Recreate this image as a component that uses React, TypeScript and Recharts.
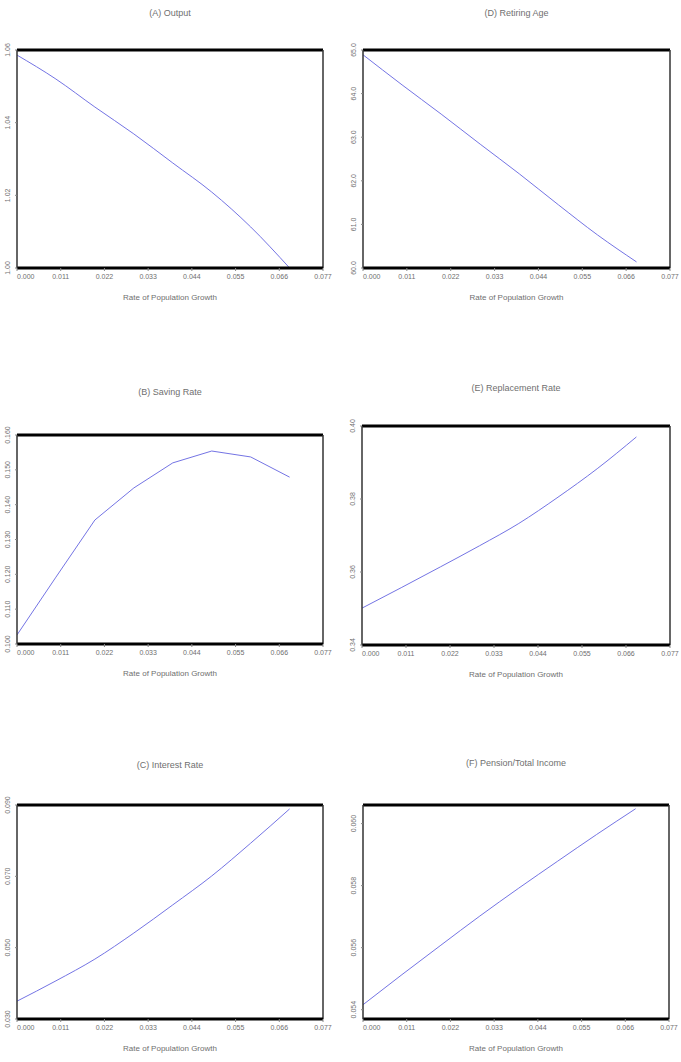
import { LineChart, Line, XAxis, YAxis, ReferenceLine, Label } from 'recharts'

// population growth grid (x) shared by all six panels
const growthRates = [0, 0.0098, 0.0196, 0.0294, 0.0392, 0.049, 0.0588, 0.0686]
const xTicks = [0, 0.011, 0.022, 0.033, 0.044, 0.055, 0.066, 0.077]

// series
const output = [1.0586, 1.052, 1.0443, 1.0369, 1.0289, 1.0209, 1.0113, 1.0]
const retiringAge = [64.89, 64.2, 63.53, 62.84, 62.16, 61.45, 60.76, 60.14]
const savingRate = [0.1026, 0.1192, 0.1356, 0.1448, 0.152, 0.1554, 0.1537, 0.1479]
const replacementRate = [0.3501, 0.3557, 0.3614, 0.3672, 0.3733, 0.3805, 0.3883, 0.397]
const interestRate = [0.035, 0.0407, 0.0468, 0.0541, 0.062, 0.0701, 0.0793, 0.0889]
const pensionShare = [0.05416, 0.05513, 0.05608, 0.05702, 0.05792, 0.05879, 0.05965, 0.06048]

// y tick labels
const outputTicks = [1.0, 1.02, 1.04, 1.06]
const ageTicks = [60, 61, 62, 63, 64, 65]
const savingTicks = [0.1, 0.11, 0.12, 0.13, 0.14, 0.15, 0.16]
const replacementTicks = [0.34, 0.36, 0.38, 0.4]
const interestTicks = [0.03, 0.05, 0.07, 0.09]
const pensionTicks = [0.054, 0.056, 0.058, 0.06]

const FONT = '"Liberation Sans", Arial, sans-serif'
const TEXT = '#6f6f6f'
const LINE = '#7474e4'

type Box = { x0: number; x1: number; y0: number; y1: number }

function Panel(props: {
  title: string
  values: number[]
  yDomain: [number, number]
  yTicks: number[]
  digits: number
  box: Box
  titleY: number
  curve: 'linear' | 'monotone'
}) {
  const { title, values, yDomain, yTicks, digits, box, titleY, curve } = props
  const data = growthRates.map((g, i) => ({ g, v: values[i] }))
  const yw = 17
  const pad = 14
  const right = 12
  const w = box.x1 - box.x0 + yw + right
  const h = box.y1 - box.y0 + pad + 34

  const yTick = ({ x, y, payload }: any) => (
    <text
      x={x - 3}
      y={y}
      transform={`rotate(-90 ${x - 3} ${y})`}
      textAnchor="middle"
      fontSize={7}
      fill={TEXT}
      fontFamily={FONT}
    >
      {Number(payload.value).toFixed(digits)}
    </text>
  )

  const xTick = ({ x, y, payload, index }: any) => (
    <text
      x={x}
      y={y + 6}
      textAnchor={index === 0 ? 'start' : 'middle'}
      fontSize={7}
      fill={TEXT}
      fontFamily={FONT}
    >
      {Number(payload.value).toFixed(3)}
    </text>
  )

  return (
    <>
      <div
        style={{
          position: 'absolute',
          left: box.x0,
          width: box.x1 - box.x0,
          top: titleY - 6,
          textAlign: 'center',
          fontSize: 9,
          lineHeight: '12px',
          color: TEXT,
          fontFamily: FONT,
        }}
      >
        {title}
      </div>
      <div style={{ position: 'absolute', left: box.x0 - yw, top: box.y0 - pad }}>
        <LineChart width={w} height={h} data={data} margin={{ top: pad, right, bottom: 0, left: 0 }}>
          <XAxis
            dataKey="g"
            type="number"
            domain={[0, 0.077]}
            ticks={xTicks}
            interval={0}
            allowDataOverflow
            height={34}
            tick={xTick}
            tickSize={3}
            tickLine={{ stroke: '#888' }}
            axisLine={{ stroke: '#000', strokeWidth: 3 }}
          >
            <Label
              value="Rate of Population Growth"
              position="insideBottom"
              offset={2}
              style={{ fontSize: 8, fill: TEXT, fontFamily: FONT }}
            />
          </XAxis>
          <YAxis
            type="number"
            domain={yDomain}
            ticks={yTicks}
            interval={0}
            allowDataOverflow
            width={yw}
            tick={yTick}
            tickSize={2}
            tickLine={{ stroke: '#888' }}
            axisLine={{ stroke: '#333', strokeWidth: 1.5 }}
          />
          <ReferenceLine y={yDomain[1]} stroke="#000" strokeWidth={3} />
          <ReferenceLine x={0.077} stroke="#333" strokeWidth={1.5} />
          <Line
            type={curve}
            dataKey="v"
            stroke={LINE}
            strokeWidth={1}
            dot={false}
            isAnimationActive={false}
          />
        </LineChart>
      </div>
    </>
  )
}

export default function App() {
  return (
    <div style={{ position: 'absolute', left: 0, top: 0, width: 681, height: 1062, background: '#fff' }}>
      <Panel
        title="(A) Output"
        values={output}
        yDomain={[1.0, 1.06]}
        yTicks={outputTicks}
        digits={2}
        box={{ x0: 17, x1: 323, y0: 50, y1: 268 }}
        titleY={13}
        curve="monotone"
      />
      <Panel
        title="(D) Retiring Age"
        values={retiringAge}
        yDomain={[60, 65]}
        yTicks={ageTicks}
        digits={1}
        box={{ x0: 363, x1: 670, y0: 50, y1: 268 }}
        titleY={13}
        curve="monotone"
      />
      <Panel
        title="(B) Saving Rate"
        values={savingRate}
        yDomain={[0.1, 0.16]}
        yTicks={savingTicks}
        digits={3}
        box={{ x0: 17, x1: 323, y0: 435, y1: 644 }}
        titleY={392}
        curve="linear"
      />
      <Panel
        title="(E) Replacement Rate"
        values={replacementRate}
        yDomain={[0.34, 0.4]}
        yTicks={replacementTicks}
        digits={2}
        box={{ x0: 362, x1: 670, y0: 426, y1: 645 }}
        titleY={388}
        curve="monotone"
      />
      <Panel
        title="(C) Interest Rate"
        values={interestRate}
        yDomain={[0.03, 0.09]}
        yTicks={interestTicks}
        digits={3}
        box={{ x0: 17, x1: 323, y0: 805, y1: 1019 }}
        titleY={765}
        curve="monotone"
      />
      <Panel
        title="(F) Pension/Total Income"
        values={pensionShare}
        yDomain={[0.0537, 0.0606]}
        yTicks={pensionTicks}
        digits={3}
        box={{ x0: 363, x1: 669, y0: 805, y1: 1019 }}
        titleY={763}
        curve="monotone"
      />
    </div>
  )
}
